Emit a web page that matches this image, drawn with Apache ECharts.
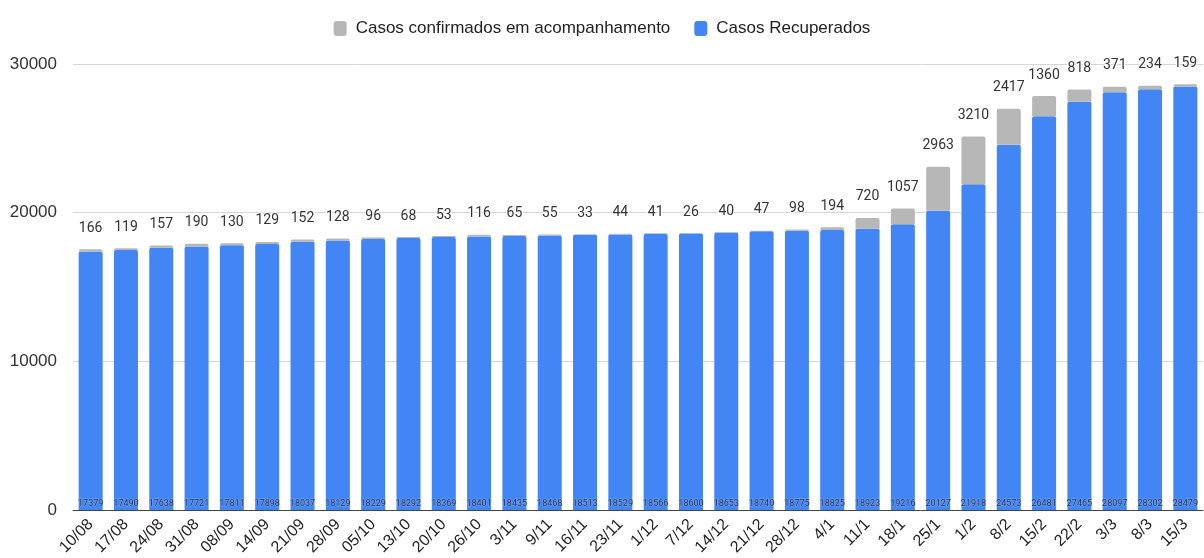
<!DOCTYPE html>
<html>
<head>
<meta charset="utf-8">
<script src="https://cdn.jsdelivr.net/npm/echarts@6/dist/echarts.min.js"></script>
<style>html,body{margin:0;padding:0;background:#fff;}#chart{width:1204px;height:558px;}</style>
</head>
<body>
<div id="chart"></div>
<script>
const categories = ['10/08','17/08','24/08','31/08','08/09','14/09','21/09','28/09','05/10','13/10','20/10','26/10','3/11','9/11','16/11','23/11','1/12','7/12','14/12','21/12','28/12','4/1','11/1','18/1','25/1','1/2','8/2','15/2','22/2','3/3','8/3','15/3'];
const recuperados = [17379,17490,17638,17721,17811,17898,18037,18129,18229,18292,18369,18401,18435,18468,18513,18529,18566,18600,18653,18740,18775,18825,18923,19216,20127,21918,24573,26481,27465,28097,28302,28479];
const acompanhamento = [166,119,157,190,130,129,152,128,96,68,53,116,65,55,33,44,41,26,40,47,98,194,720,1057,2963,3210,2417,1360,818,371,234,159];
const yTicks = [0, 10000, 20000, 30000];
const seriesNames = ['Casos confirmados em acompanhamento', 'Casos Recuperados'];

const chart = echarts.init(document.getElementById('chart'));
chart.setOption({
  animation: false,
  backgroundColor: '#fff',
  legend: {
    data: seriesNames,
    top: 15,
    left: 'center',
    itemWidth: 13,
    itemHeight: 15,
    itemGap: 24,
    icon: 'roundRect',
    textStyle: { fontFamily: 'Liberation Sans, Arial, sans-serif', fontSize: 17, color: '#222', padding: [0, 0, 0, 4] }
  },
  grid: { left: 73, right: 1, top: 64, bottom: 48, containLabel: false },
  xAxis: {
    type: 'category',
    data: categories,
    axisTick: { show: false },
    axisLine: { lineStyle: { color: '#444', width: 1 } },
    axisLabel: { rotate: 45, interval: 0, margin: 12, fontFamily: 'Liberation Sans, Arial, sans-serif', fontSize: 16, color: '#222' }
  },
  yAxis: {
    type: 'value',
    min: yTicks[0],
    max: yTicks[yTicks.length - 1],
    interval: 10000,
    axisLine: { show: false },
    axisTick: { show: false },
    splitLine: { lineStyle: { color: '#d6d6d6', width: 1 } },
    axisLabel: { margin: 16, formatter: v => String(v), fontFamily: 'Liberation Sans, Arial, sans-serif', fontSize: 17, color: '#333' }
  },
  series: [
    {
      name: seriesNames[1],
      type: 'bar',
      stack: 'total',
      data: recuperados,
      barCategoryGap: '32%',
      itemStyle: { color: '#4285f4', borderRadius: [2, 2, 0, 0] },
      label: {
        show: true,
        position: 'insideBottom',
        distance: 2,
        fontFamily: 'Roboto, sans-serif',
        fontSize: 9,
        color: '#1a2b52',
        textBorderColor: 'rgba(150,185,250,0.7)',
        textBorderWidth: 1
      }
    },
    {
      name: seriesNames[0],
      type: 'bar',
      stack: 'total',
      data: acompanhamento,
      barCategoryGap: '32%',
      itemStyle: { color: '#b7b7b7', borderRadius: [2, 2, 0, 0] },
      label: {
        show: true,
        position: 'top',
        distance: 14,
        fontFamily: 'Roboto, sans-serif',
        fontSize: 14,
        color: '#333',
        textBorderColor: '#fff',
        textBorderWidth: 2
      }
    }
  ]
});
</script>
</body>
</html>
